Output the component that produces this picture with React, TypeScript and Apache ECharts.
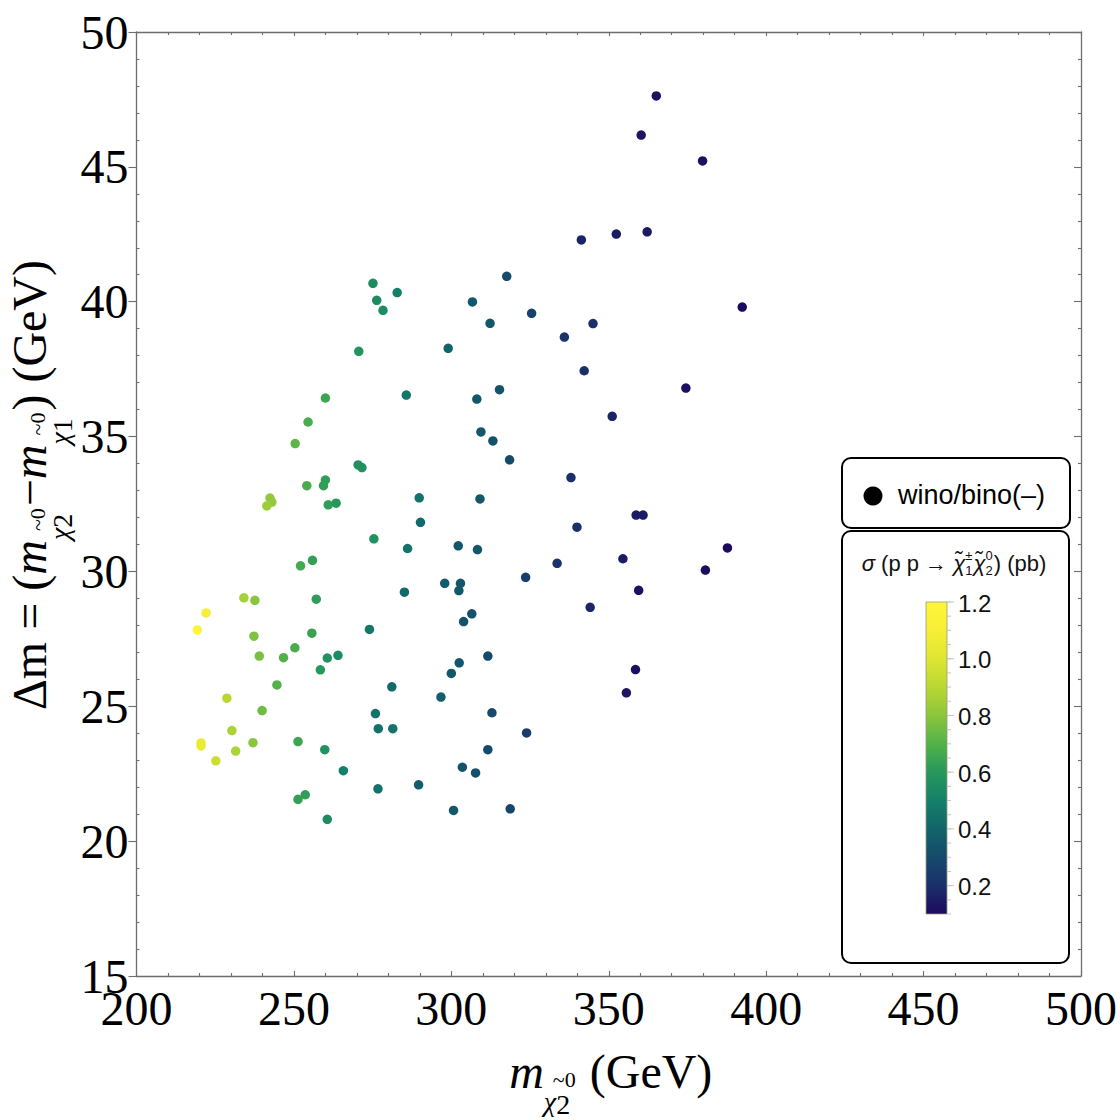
import React, { useEffect, useRef } from "react";
import * as echarts from "echarts";

// ---------- data ----------
const X_MIN = 200, X_MAX = 500, X_STEP = 50;
const Y_MIN = 15, Y_MAX = 50, Y_STEP = 5;

const neutralinoMass = [
  275.1, 282.8, 276.3, 278.3, 270.6, 260.0, 285.7, 254.5, 250.4, 270.4,
  271.6, 260.0, 259.4, 254.1, 242.4, 243.0, 241.4, 260.9, 263.4, 289.8,
  290.2, 275.4, 286.1, 252.1, 255.9, 234.1, 237.6, 222.1, 257.1, 285.1,
  219.3, 237.3, 255.7, 274.0, 250.3, 239.0, 246.7, 260.6, 264.0, 258.4,
  244.6, 281.1, 228.7, 239.9, 275.9, 276.8, 281.4, 230.3, 220.5, 220.5,
  237.0, 251.3, 231.5, 259.8, 225.2, 265.7, 276.7, 289.6, 251.3, 253.6,
  260.6, 317.6, 306.7, 325.5, 312.3, 345.0, 335.9, 299.0, 342.2, 374.5,
  315.3, 308.1, 351.1, 309.4, 313.2, 318.5, 338.0, 309.1, 358.7, 360.9,
  339.9, 302.2, 308.3, 333.6, 354.5, 323.6, 297.9, 302.9, 302.4, 359.5,
  344.1, 306.5, 303.9, 311.6, 302.5, 300.0, 296.7, 358.5, 355.6, 312.9,
  323.9, 311.6, 303.5, 307.7, 300.7, 318.7, 365.1, 360.3, 379.8, 341.3,
  352.4, 362.2, 392.4, 387.7, 380.7,
];

const massSplitting = [
  40.68, 40.34, 40.05, 39.68, 38.16, 36.43, 36.54, 35.54, 34.74, 33.95,
  33.85, 33.39, 33.18, 33.18, 32.72, 32.57, 32.43, 32.47, 32.53, 32.73,
  31.82, 31.21, 30.85, 30.21, 30.41, 29.02, 28.93, 28.46, 28.97, 29.23,
  27.83, 27.60, 27.71, 27.85, 27.17, 26.86, 26.80, 26.79, 26.89, 26.35,
  25.79, 25.72, 25.30, 24.84, 24.73, 24.17, 24.17, 24.10, 23.64, 23.53,
  23.65, 23.69, 23.34, 23.39, 22.98, 22.61, 21.94, 22.09, 21.55, 21.72,
  20.81, 40.94, 39.99, 39.57, 39.20, 39.19, 38.69, 38.27, 37.44, 36.80,
  36.74, 36.39, 35.75, 35.17, 34.84, 34.14, 33.48, 32.69, 32.09, 32.09,
  31.64, 30.95, 30.81, 30.30, 30.47, 29.78, 29.56, 29.56, 29.29, 29.30,
  28.67, 28.43, 28.14, 26.86, 26.61, 26.22, 25.34, 26.36, 25.50, 24.76,
  24.01, 23.39, 22.74, 22.53, 21.14, 21.20, 47.63, 46.18, 45.22, 42.29,
  42.51, 42.59, 39.80, 30.87, 30.05,
];

const crossSection = [
  0.55, 0.50, 0.55, 0.55, 0.58, 0.65, 0.47, 0.68, 0.72, 0.57,
  0.57, 0.62, 0.62, 0.68, 0.82, 0.82, 0.84, 0.62, 0.60, 0.45,
  0.42, 0.57, 0.45, 0.67, 0.63, 0.86, 0.80, 1.10, 0.62, 0.42,
  1.18, 0.78, 0.64, 0.47, 0.68, 0.77, 0.70, 0.57, 0.55, 0.60,
  0.70, 0.42, 0.90, 0.75, 0.45, 0.45, 0.45, 0.87, 1.05, 1.05,
  0.80, 0.65, 0.87, 0.57, 0.95, 0.50, 0.45, 0.37, 0.63, 0.62,
  0.55, 0.30, 0.35, 0.27, 0.35, 0.20, 0.22, 0.40, 0.20, 0.12,
  0.33, 0.35, 0.17, 0.35, 0.33, 0.30, 0.20, 0.35, 0.15, 0.15,
  0.20, 0.35, 0.35, 0.22, 0.15, 0.25, 0.37, 0.35, 0.35, 0.12,
  0.17, 0.33, 0.33, 0.30, 0.35, 0.35, 0.38, 0.12, 0.13, 0.30,
  0.25, 0.30, 0.33, 0.32, 0.35, 0.28, 0.12, 0.13, 0.12, 0.17,
  0.15, 0.14, 0.10, 0.10, 0.11,
];

const CB_MIN = 0.1, CB_MAX = 1.2;
const colorbarTicks = [0.2, 0.4, 0.6, 0.8, 1.0, 1.2];
const colorbarTickLabels = ["0.2", "0.4", "0.6", "0.8", "1.0", "1.2"];
const viridisColors = [
  "#1c0a5e", "#1b2f6b", "#154a6c", "#11646a", "#14806a", "#27985c",
  "#52b249", "#8ac63c", "#b9d733", "#dfe533", "#f6ef35", "#fff639",
];
const legendLabel = "wino/bino(–)";

// ---------- helpers ----------
const SERIF = "'Liberation Serif', 'DejaVu Serif', serif";
const SANS = "'Liberation Sans', Arial, 'DejaVu Sans', sans-serif";
const FRAME = "#6e6e6e";

let measureCtx: CanvasRenderingContext2D | null = null;
function measure(text: string, size: number, italic: boolean, family: string) {
  if (!measureCtx) measureCtx = document.createElement("canvas").getContext("2d");
  if (!measureCtx) return text.length * size * 0.5;
  measureCtx.font = `${italic ? "italic " : ""}${size}px ${family}`;
  return measureCtx.measureText(text).width;
}

type P = { t: string; s: number; i?: boolean; dy?: number };
type Stack = { sup: P[]; sub: P[]; supDx?: number; after?: number };
type Item = P | Stack;
type Placed = P & { x: number };

function layoutPieces(items: Item[], family: string) {
  const out: Placed[] = [];
  let x = 0;
  for (const it of items) {
    if ((it as P).t !== undefined) {
      const p = it as P;
      out.push({ ...p, x });
      x += measure(p.t, p.s, !!p.i, family);
    } else {
      const st = it as Stack;
      let xs = x + (st.supDx || 0);
      for (const p of st.sup) {
        out.push({ ...p, x: xs });
        xs += measure(p.t, p.s, !!p.i, family);
      }
      let xb = x;
      for (const p of st.sub) {
        out.push({ ...p, x: xb });
        xb += measure(p.t, p.s, !!p.i, family);
      }
      x = Math.max(xs, xb) + (st.after || 0);
    }
  }
  return { out, width: x };
}

function textEl(p: Placed, ox: number, oy: number, family: string, fill = "#000") {
  return {
    type: "text",
    x: ox + p.x,
    y: oy + (p.dy || 0),
    silent: true,
    style: {
      text: p.t,
      fontSize: p.s,
      fontStyle: p.i ? "italic" : "normal",
      fontFamily: family,
      fill,
      align: "left",
      verticalAlign: "middle",
      textAlign: "left",
      textVerticalAlign: "middle",
    },
  };
}

function chiStack(idx: string): Stack {
  return {
    sup: [{ t: "~0", s: 22, dy: 8 }],
    sub: [
      { t: "χ", s: 28, i: true, dy: 30 },
      { t: idx, s: 28, dy: 33 },
    ],
    supDx: 9,
    after: 2,
  };
}

export default function App() {
  const ref = useRef<HTMLDivElement>(null);

  useEffect(() => {
    if (!ref.current) return;
    const chart = echarts.init(ref.current, undefined, { renderer: "svg" });

    const gridLeft = 136.5, gridTop = 32, gridRight = 1081, gridBottom = 976;

    const data = neutralinoMass.map((m, i) => [m, massSplitting[i], crossSection[i]]);

    // ---- axis titles ----
    const xLab = layoutPieces(
      [{ t: "m", s: 48, i: true }, chiStack("2"), { t: " (GeV)", s: 48 }],
      SERIF
    );
    const xCenter = (gridLeft + gridRight) / 2 + 2;
    const xLabEls = xLab.out.map((p) => textEl(p, xCenter - xLab.width / 2, 1071, SERIF));

    const yLab = layoutPieces(
      [
        { t: "Δm = (", s: 48 },
        { t: "m", s: 48, i: true },
        chiStack("2"),
        { t: "−", s: 48 },
        { t: "m", s: 48, i: true },
        chiStack("1"),
        { t: ") (GeV)", s: 48 },
      ],
      SERIF
    );
    const yLabGroup = {
      type: "group",
      x: 29,
      y: 485 + yLab.width / 2,
      rotation: Math.PI / 2,
      children: yLab.out.map((p) => textEl(p, 0, 0, SERIF)),
    };

    // ---- colour bar title ----
    const cbTitle = layoutPieces(
      [
        { t: "σ", s: 22, i: true },
        { t: " (p p → ", s: 22 },
        { t: "χ̃", s: 22, i: true },
        { sup: [{ t: "±", s: 13, dy: -8 }], sub: [{ t: "1", s: 13, dy: 7 }], after: 1 },
        { t: "χ̃", s: 22, i: true },
        { sup: [{ t: "0", s: 13, dy: -8 }], sub: [{ t: "2", s: 13, dy: 7 }], after: 1 },
        { t: ") (pb)", s: 22 },
      ],
      SANS
    );
    const cbTitleEls = cbTitle.out.map((p) => textEl(p, 954 - cbTitle.width / 2, 563, SANS, "#111"));

    // ---- colour bar ----
    const cbX = 926, cbY = 602, cbW = 21, cbH = 312;
    const cbPos = (v: number) => cbY + cbH - ((v - CB_MIN) / (CB_MAX - CB_MIN)) * cbH;
    const stops = viridisColors.map((c, i) => ({ offset: i / (viridisColors.length - 1), color: c }));
    const cbEls: any[] = [
      {
        type: "rect",
        shape: { x: cbX, y: cbY, width: cbW, height: cbH },
        style: {
          fill: new echarts.graphic.LinearGradient(0, 1, 0, 0, stops),
          stroke: "#9a9a7a",
          lineWidth: 0.8,
        },
      },
    ];
    for (let k = 0; k <= 22; k++) {
      const v = CB_MIN + k * 0.05;
      const y = cbPos(v);
      cbEls.push({
        type: "line",
        shape: { x1: cbX + cbW, y1: y, x2: cbX + cbW + 4, y2: y },
        style: { stroke: "#c4c4c4", lineWidth: 1 },
      });
    }
    colorbarTicks.forEach((v, i) => {
      const y = cbPos(v);
      cbEls.push({
        type: "line",
        shape: { x1: cbX + cbW, y1: y, x2: cbX + cbW + 7, y2: y },
        style: { stroke: "#c4c4c4", lineWidth: 1 },
      });
      cbEls.push({
        type: "text",
        x: 958,
        y: y + 1,
        style: {
          text: colorbarTickLabels[i],
          fontSize: 24,
          fontFamily: SANS,
          fill: "#111",
          align: "left",
          verticalAlign: "middle",
          textAlign: "left",
          textVerticalAlign: "middle",
        },
      });
    });

    const axisLineStyle = { color: FRAME, width: 1.3 };
    const tickStyle = { color: FRAME, width: 1.1 };
    const xBase = {
      type: "value",
      min: X_MIN,
      max: X_MAX,
      interval: X_STEP,
      axisLine: { show: true, onZero: false, lineStyle: axisLineStyle },
      splitLine: { show: false },
      minorSplitLine: { show: false },
    };
    const yBase = {
      type: "value",
      min: Y_MIN,
      max: Y_MAX,
      interval: Y_STEP,
      axisLine: { show: true, onZero: false, lineStyle: axisLineStyle },
      splitLine: { show: false },
      minorSplitLine: { show: false },
    };

    chart.setOption({
      animation: false,
      backgroundColor: "#ffffff",
      grid: {
        left: gridLeft,
        top: gridTop,
        width: gridRight - gridLeft,
        height: gridBottom - gridTop,
        containLabel: false,
        outerBoundsMode: "none",
      },
      xAxis: [
        {
          ...xBase,
          position: "bottom",
          axisTick: { show: true, inside: true, length: 5, lineStyle: tickStyle },
          minorTick: { show: true, splitNumber: 5, length: 3, lineStyle: tickStyle },
          axisLabel: { show: true, margin: 8, fontSize: 48, fontFamily: SERIF, color: "#000" },
        },
        {
          ...xBase,
          position: "top",
          axisTick: { show: true, inside: true, length: 4, lineStyle: tickStyle },
          minorTick: { show: true, splitNumber: 5, length: 3, lineStyle: tickStyle },
          axisLabel: { show: false },
        },
      ],
      yAxis: [
        {
          ...yBase,
          position: "left",
          axisTick: { show: true, inside: false, length: 8, lineStyle: tickStyle },
          minorTick: { show: false },
          axisLabel: { show: true, margin: 8, fontSize: 48, fontFamily: SERIF, color: "#000" },
        },
        {
          ...yBase,
          position: "left",
          axisLine: { show: false },
          axisTick: { show: false, inside: true },
          minorTick: { show: true, splitNumber: 5, length: 3, lineStyle: tickStyle },
          axisLabel: { show: false },
        },
        {
          ...yBase,
          position: "right",
          axisTick: { show: true, inside: true, length: 7, lineStyle: tickStyle },
          minorTick: { show: true, splitNumber: 5, length: 3, lineStyle: tickStyle },
          axisLabel: { show: false },
        },
      ],
      visualMap: {
        type: "continuous",
        show: false,
        min: CB_MIN,
        max: CB_MAX,
        dimension: 2,
        seriesIndex: 0,
        inRange: { color: viridisColors },
      },
      series: [
        {
          type: "scatter",
          name: legendLabel,
          xAxisIndex: 0,
          yAxisIndex: 0,
          symbol: "circle",
          symbolSize: 9.5,
          data,
          itemStyle: { opacity: 1 },
          emphasis: { disabled: true },
        },
      ],
      graphic: [
        ...xLabEls,
        yLabGroup,
        {
          type: "rect",
          shape: { x: 842, y: 458, width: 228, height: 70, r: 9 },
          style: { fill: "#fff", stroke: "#000", lineWidth: 2 },
        },
        { type: "circle", shape: { cx: 873, cy: 496, r: 9.5 }, style: { fill: "#000" } },
        {
          type: "text",
          x: 898,
          y: 495,
          style: {
            text: legendLabel,
            fontSize: 27,
            fontFamily: SANS,
            fill: "#000",
            align: "left",
            verticalAlign: "middle",
            textAlign: "left",
            textVerticalAlign: "middle",
          },
        },
        {
          type: "rect",
          shape: { x: 842, y: 531, width: 227, height: 432, r: 9 },
          style: { fill: "#fff", stroke: "#000", lineWidth: 2 },
        },
        ...cbTitleEls,
        ...cbEls,
      ],
    });

    return () => chart.dispose();
  }, []);

  return (
    <div
      ref={ref}
      style={{ position: "absolute", left: 0, top: 0, width: 1120, height: 1120, background: "#fff" }}
    />
  );
}
